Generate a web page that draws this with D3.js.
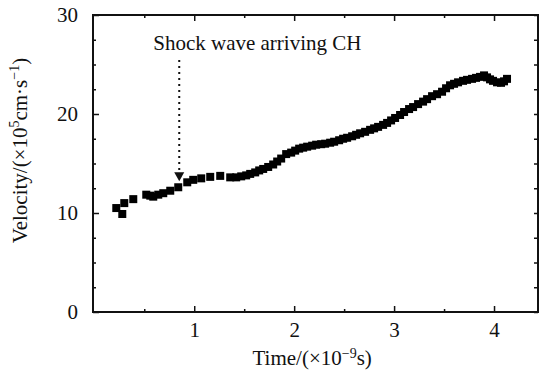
<!DOCTYPE html>
<html>
<head>
<meta charset="utf-8">
<script src="https://cdn.jsdelivr.net/npm/d3@7"></script>
<style>
  body { margin: 0; background: #fff; }
  text { font-family: "Liberation Serif", "Times New Roman", serif; fill: #111; }
</style>
</head>
<body>
<div id="chart"></div>
<script>
// measured data (time in 1e-9 s, velocity in 1e5 cm/s)
let timeValues = [0.22, 0.28, 0.30, 0.39, 0.52, 0.56, 0.59, 0.64, 0.69, 0.76, 0.84, 0.93, 0.99, 1.07, 1.16, 1.26, 1.36, 1.42,
    1.47, 1.52, 1.56, 1.61, 1.65, 1.69, 1.74, 1.79, 1.83, 1.87, 1.92, 1.97, 2.01, 2.05, 2.09, 2.13, 2.18, 2.22, 2.27, 2.31,
    2.36, 2.40, 2.45, 2.49, 2.53, 2.58, 2.62, 2.66, 2.71, 2.76, 2.80, 2.84, 2.89, 2.93, 2.97, 3.01, 3.06, 3.10, 3.15, 3.19,
    3.24, 3.29, 3.33, 3.38, 3.43, 3.48, 3.52, 3.56, 3.60, 3.64, 3.69, 3.73, 3.78, 3.82, 3.86, 3.90, 3.93, 3.96, 3.99, 4.03,
    4.07, 4.10, 4.13];
let velocityValues = [10.5, 9.9, 11.0, 11.4, 11.85, 11.75, 11.65, 11.85, 12.0, 12.25, 12.6, 13.1, 13.35, 13.5, 13.65, 13.75, 13.6, 13.6,
    13.7, 13.8, 13.95, 14.1, 14.3, 14.45, 14.65, 14.9, 15.2, 15.5, 15.95, 16.1, 16.3, 16.5, 16.6, 16.7, 16.8, 16.9, 16.95, 17.0,
    17.1, 17.2, 17.35, 17.5, 17.6, 17.75, 17.9, 18.05, 18.2, 18.4, 18.55, 18.7, 18.9, 19.1, 19.35, 19.6, 19.9, 20.2, 20.5, 20.7,
    21.0, 21.25, 21.5, 21.8, 22.0, 22.25, 22.6, 22.9, 23.05, 23.2, 23.35, 23.45, 23.55, 23.65, 23.75, 23.9, 23.7, 23.5, 23.35, 23.2,
    23.15, 23.3, 23.55];

let xTickValues = [1, 2, 3, 4];
let xMinorTicks = [0.5, 1.5, 2.5, 3.5];
let yTickValues = [0, 10, 20, 30];
let yMinorTicks = [2.5, 5, 7.5, 12.5, 15, 17.5, 22.5, 25, 27.5];

// annotation: arrow at t = 0.85 from v = 25.45 down to v = 13.2
let arrowTime = 0.85;
let arrowRange = [25.45, 13.2];
let annotationText = "Shock wave arriving CH";

let data = timeValues.map((t, i) => ({time: t, velocity: velocityValues[i]}));

let margin = {top: 15, right: 1, bottom: 59, left: 93};
let width = 539 - margin.left - margin.right;
let height = 371 - margin.top - margin.bottom;

let svg = d3.select("#chart").append("svg")
    .attr("width", 539)
    .attr("height", 371)
    .append("g")
    .attr("transform", "translate(" + margin.left + "," + margin.top + ")");

let x = d3.scaleLinear().domain([-0.013, 4.44]).range([0, width]);
let y = d3.scaleLinear().domain([0, 30]).range([height, 0]);

// axes with inward ticks
function styleAxis(g) {
    g.select(".domain").remove();
    g.selectAll("line").attr("stroke", "#111").attr("stroke-width", 1.5);
    g.selectAll("text").attr("font-size", "21px");
}

svg.append("g")
    .attr("transform", "translate(0," + height + ")")
    .call(d3.axisBottom(x).tickValues(xTickValues).tickSize(-6).tickPadding(10).tickFormat(d3.format("d")))
    .call(styleAxis);
svg.append("g")
    .attr("transform", "translate(0," + height + ")")
    .call(d3.axisBottom(x).tickValues(xMinorTicks).tickSize(-3).tickFormat(""))
    .call(styleAxis);
svg.append("g")
    .call(d3.axisTop(x).tickValues(xTickValues).tickSize(-6).tickFormat(""))
    .call(styleAxis);
svg.append("g")
    .call(d3.axisTop(x).tickValues(xMinorTicks).tickSize(-3).tickFormat(""))
    .call(styleAxis);

svg.append("g")
    .call(d3.axisLeft(y).tickValues(yTickValues).tickSize(-6).tickPadding(15).tickFormat(d3.format("d")))
    .call(styleAxis);
svg.append("g")
    .call(d3.axisLeft(y).tickValues(yMinorTicks).tickSize(-3).tickFormat(""))
    .call(styleAxis);
svg.append("g")
    .attr("transform", "translate(" + width + ",0)")
    .call(d3.axisRight(y).tickValues(yTickValues.concat(yMinorTicks)).tickSize(-4).tickFormat(""))
    .call(styleAxis);

// frame
svg.append("rect")
    .attr("width", width)
    .attr("height", height)
    .attr("fill", "none")
    .attr("stroke", "#111")
    .attr("stroke-width", 2);

// data squares
let size = 8;
svg.append("g").selectAll("rect")
    .data(data)
    .enter().append("rect")
    .attr("x", d => x(d.time) - size / 2)
    .attr("y", d => y(d.velocity) - size / 2)
    .attr("width", size)
    .attr("height", size)
    .attr("fill", "#000");

// annotation arrow
svg.append("line")
    .attr("x1", x(arrowTime))
    .attr("x2", x(arrowTime))
    .attr("y1", y(arrowRange[0]))
    .attr("y2", y(arrowRange[1]) - 8)
    .attr("stroke", "#111")
    .attr("stroke-width", 2)
    .attr("stroke-dasharray", "2,4");
let tipY = y(arrowRange[1]);
let tipX = x(arrowTime);
svg.append("path")
    .attr("d", "M" + (tipX - 5) + "," + (tipY - 9) + "L" + (tipX + 5) + "," + (tipY - 9) + "L" + tipX + "," + tipY + "Z")
    .attr("fill", "#111");

svg.append("text")
    .attr("x", x(arrowTime) - 26)
    .attr("y", 35)
    .attr("font-size", "21px")
    .text(annotationText);

// axis titles
let xLabel = svg.append("text")
    .attr("x", x(2.18))
    .attr("y", height + 53)
    .attr("text-anchor", "middle")
    .attr("font-size", "21px");
xLabel.append("tspan").text("Time/(×10");
xLabel.append("tspan").attr("font-size", "14px").attr("dy", -7).text("−9");
xLabel.append("tspan").attr("dy", 7).text("s)");

let yLabel = svg.append("text")
    .attr("transform", "translate(" + (-66) + "," + (height / 2 - 13) + ") rotate(-90)")
    .attr("text-anchor", "middle")
    .attr("font-size", "21px");
yLabel.append("tspan").text("Velocity/(×10");
yLabel.append("tspan").attr("font-size", "14px").attr("dy", -8).text("5");
yLabel.append("tspan").attr("dy", 8).text("cm·s");
yLabel.append("tspan").attr("font-size", "14px").attr("dy", -8).text("−1");
yLabel.append("tspan").attr("dy", 8).text(")");
</script>
</body>
</html>
